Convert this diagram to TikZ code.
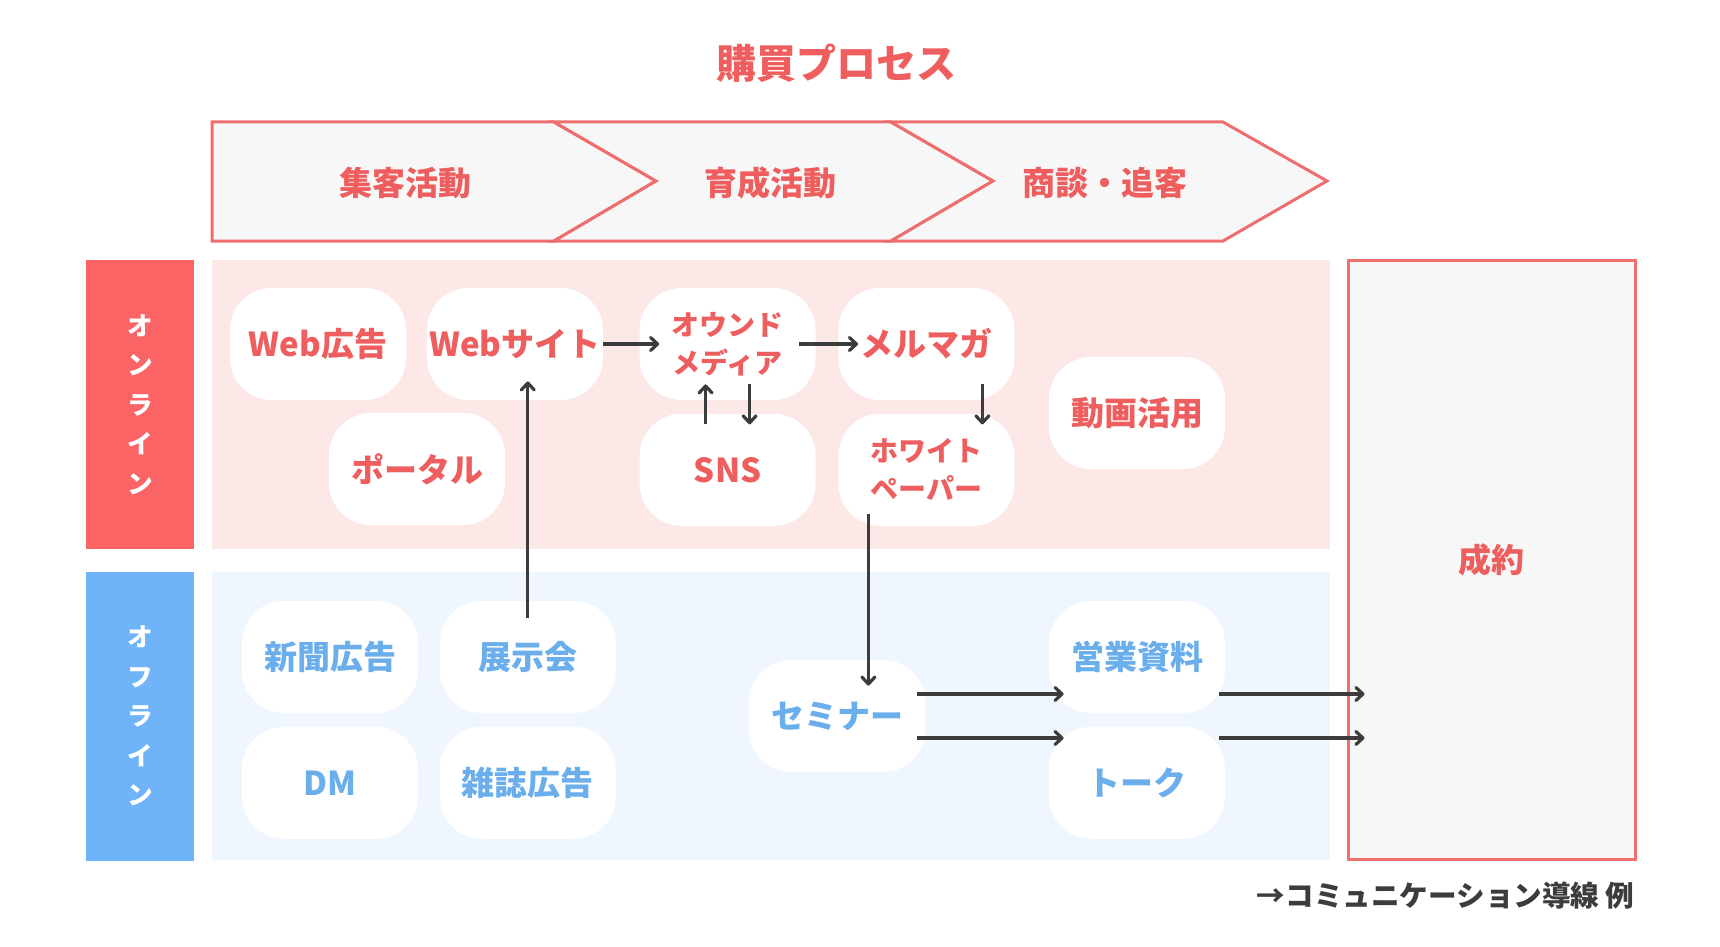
\documentclass[tikz,border=0pt]{standalone}
\usepackage{fontspec}
\setmainfont{Noto Sans CJK JP}
\usepackage{tikz}
\usetikzlibrary{arrows.meta,positioning,calc}
\definecolor{Coral}{HTML}{EE6E6E}
\definecolor{RedText}{HTML}{EE5E5E}
\definecolor{BandRed}{HTML}{FA6464}
\definecolor{BandBlue}{HTML}{6FB3F9}
\definecolor{PinkBg}{HTML}{FDE8E8}
\definecolor{BlueBg}{HTML}{EFF6FD}
\definecolor{BlueText}{HTML}{6BAEEC}
\definecolor{Mist}{HTML}{F7F7F7}
\definecolor{Ink}{HTML}{3C3C3C}

\begin{document}
\begin{tikzpicture}[
  x=0.5pt,y=-0.5pt,
  every node/.style={font=\bfseries},
  chip/.style={fill=white,rounded corners=21pt,minimum width=88pt,minimum height=56pt,inner sep=0pt,align=center,font=\bfseries\fontsize{16.5}{20}\selectfont},
  onchip/.style={chip,text=RedText},
  offchip/.style={chip,text=BlueText},
  twoline/.style={font=\bfseries\fontsize{14}{19}\selectfont},
  band/.style={minimum width=54pt,minimum height=144.5pt,inner sep=0pt,text=white,align=center,font=\bfseries\fontsize{12.8}{19.75}\selectfont},
  tag/.style={text=RedText,font=\bfseries\fontsize{16.5}{20}\selectfont},
  chevron/.style={draw=Coral,fill=Mist,line width=1.5pt},
  arr/.style={-{Straight Barb[length=3.5pt,width=6.5pt,round]},line width=1.6pt,Ink}
]
\useasboundingbox (0,0) rectangle (1720,947);
\fill[PinkBg] (212,260) rectangle (1330,549);
\fill[BlueBg] (212,572) rectangle (1330,860);

\node[text=RedText,font=\bfseries\fontsize{20}{24}\selectfont] (title) at (836,63) {購買プロセス};

\draw[chevron] (212,122) -- (554,122) -- (656,181) -- (554,241) -- (212,241) -- cycle;
\draw[chevron] (554,122) -- (891,122) -- (993,181) -- (891,241) -- (554,241) -- (656,181) -- cycle;
\draw[chevron] (891,122) -- (1223,122) -- (1327,181) -- (1223,241) -- (891,241) -- (993,181) -- cycle;
\node[tag] (attract) at (405,183) {集客活動};
\node[tag] (nurture) at (770,183) {育成活動};
\node[tag] (close) at (1105,183) {商談・追客};

\node[band,fill=BandRed] (online) at (140,404.5) {オ\\ン\\ラ\\イ\\ン};
\node[band,fill=BandBlue] (offline) at (140,716) {オ\\フ\\ラ\\イ\\ン};

% online
\node[onchip] (webad) at (318,344) {Web広告};
\node[onchip,right=10pt of webad] (webs) {Webサイト};
\node[onchip,twoline,right=18pt of webs] (owned) {オウンド\\メディア};
\node[onchip,right=11pt of owned] (mail) {メルマガ};
\node[onchip] (portal) at (417,469) {ポータル};
\node[onchip,below=6.5pt of owned] (sns) {SNS};
\node[onchip,twoline,below=6.5pt of mail] (white) {ホワイト\\ペーパー};
\node[onchip] (video) at (1137,413) {動画活用};

% offline
\node[offchip] (news) at (330,657) {新聞広告};
\node[offchip,right=10.5pt of news] (expo) {展示会};
\node[offchip,below=6.5pt of news] (dm) {DM};
\node[offchip,below=6.5pt of expo] (mag) {雑誌広告};
\node[offchip] (seminar) at (837,716) {セミナー};
\node[offchip] (sales) at (1137,657) {営業資料};
\node[offchip,below=6.5pt of sales] (talk) {トーク};

\node[draw=Coral,line width=1.5pt,fill=Mist,minimum width=143.5pt,minimum height=299.5pt,tag] (deal) at (1491.5,559.5) {成約};

\node[anchor=east,inner sep=0pt,text=Ink,font=\bfseries\fontsize{14.3}{16}\selectfont] (note) at (1635,896) {→コミュニケーション導線 例};

\draw[arr,shorten >=-10pt] (webs) -- (owned);
\draw[arr,shorten <=-8.5pt,shorten >=-10pt] (owned) -- (mail);
\draw[arr] ([xshift=-11pt,yshift=-5.5pt]sns.north) -- ([xshift=-11pt,yshift=8pt]owned.south);
\draw[arr] ([xshift=11pt,yshift=8pt]owned.south) -- ([xshift=11pt,yshift=-5.5pt]sns.north);
\draw[arr] ([xshift=28pt,yshift=8pt]mail.south) -- ([xshift=28pt,yshift=-5.5pt]white.north);
\draw[arr,shorten <=-8.5pt,shorten >=-9.5pt] (expo.north) -- (expo.north |- webs.south);
\coordinate (wpout) at ([xshift=-29pt,yshift=6pt]white.south);
\draw[arr,shorten >=-13pt] (wpout) -- (wpout |- seminar.north);
\coordinate (semhi) at ([xshift=-4pt,yshift=11pt]seminar.east);
\coordinate (semlo) at ([xshift=-4pt,yshift=-11pt]seminar.east);
\draw[arr,shorten >=-7.5pt] (semhi) -- (semhi -| sales.west);
\draw[arr,shorten >=-7.5pt] (semlo) -- (semlo -| talk.west);
\draw[arr,shorten <=-3pt,shorten >=-9pt] (sales.east |- semhi) -- (semhi -| deal.west);
\draw[arr,shorten <=-3pt,shorten >=-9pt] (talk.east |- semlo) -- (semlo -| deal.west);
\end{tikzpicture}
\end{document}
